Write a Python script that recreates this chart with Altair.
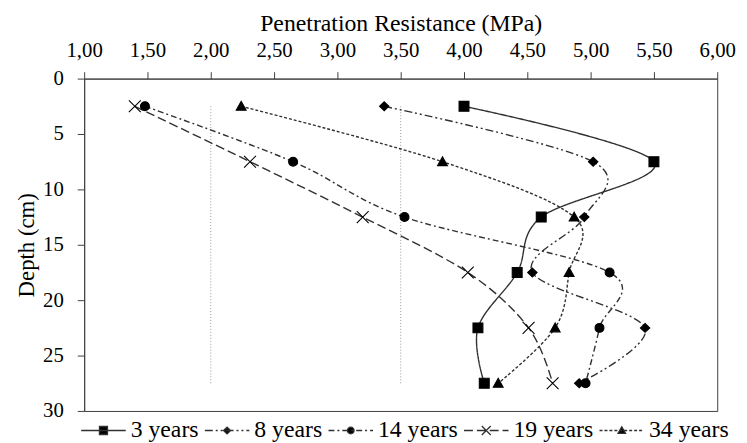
import altair as alt
import pandas as pd

# ---- data ----
depths = [2.5, 7.5, 12.5, 17.5, 22.5, 27.5]
series_names = ["3 years", "8 years", "14 years", "19 years", "34 years"]
pr_3 = [4.00, 5.50, 4.61, 4.42, 4.11, 4.16]
pr_8 = [3.37, 5.02, 4.95, 4.54, 5.43, 4.91]
pr_14 = [1.48, 2.65, 3.53, 5.15, 5.07, 4.96]
pr_19 = [1.40, 2.31, 3.20, 4.03, 4.51, 4.70]
pr_34 = [2.24, 3.83, 4.87, 4.83, 4.72, 4.27]

x_ticks = [1.0, 1.5, 2.0, 2.5, 3.0, 3.5, 4.0, 4.5, 5.0, 5.5, 6.0]
y_ticks = [0, 5, 10, 15, 20, 25, 30]

ref_x = [2.0, 3.5]
ref_top = [2.5, 2.5]
ref_bottom = [27.5, 27.5]

# ---- styles ----
dashes = [[1, 0], [8, 3, 2, 3, 2, 3], [6, 3, 2, 3], [9, 4], [3, 2]]
marker_paths = [
    "M-1,-1H1V1H-1Z",
    "M0,-0.9L0.95,0L0,0.9L-0.95,0Z",
    "M0.9,0A0.9,0.9 0 1,1 -0.9,0A0.9,0.9 0 1,1 0.9,0Z",
    "M-1.2,-1.2L1.2,1.2M-1.2,1.2L1.2,-1.2",
    "M0,-1L1,0.8L-1,0.8Z",
]
legend_markers = [
    "M-0.18,-0.18H0.18V0.18H-0.18Z",
    "M0,-0.15L0.16,0L0,0.15L-0.16,0Z",
    "M0.15,0A0.15,0.15 0 1,1 -0.15,0A0.15,0.15 0 1,1 0.15,0Z",
    "M-0.2,-0.2L0.2,0.2M-0.2,0.2L0.2,-0.2",
    "M0,-0.17L0.17,0.13L-0.17,0.13Z",
]
LEG_SIZE = 2025
LEG_SCALE = (LEG_SIZE ** 0.5) / 2  # px per path unit


def dashed_segment_path(pattern):
    """Legend line from -1 to 1 drawn as separate segments following the dash pattern."""
    if pattern[1] == 0:
        return "M-1,0H1"
    total = 2 * LEG_SCALE
    pos, i, parts = 0.0, 0, []
    while pos < total:
        seg = pattern[i % len(pattern)]
        end = min(pos + seg, total)
        if i % 2 == 0:
            parts.append(f"M{-1 + pos / LEG_SCALE:.3f},0H{-1 + end / LEG_SCALE:.3f}")
        pos += seg
        i += 1
    return "".join(parts)


legend_paths = [dashed_segment_path(d) + m for d, m in zip(dashes, legend_markers)]

rows = []
for name, vals in zip(series_names, [pr_3, pr_8, pr_14, pr_19, pr_34]):
    for d, v in zip(depths, vals):
        rows.append({"series": name, "depth": d, "pr": v})
df = pd.DataFrame(rows)
ref_df = pd.DataFrame({"pr": ref_x, "depth": ref_top, "depth2": ref_bottom})

FONT = "Liberation Serif"
axis_style = dict(
    labelFont=FONT,
    titleFont=FONT,
    labelFontSize=21,
    titleFontWeight="normal",
    labelColor="black",
    titleColor="black",
    grid=False,
    domainColor="#404040",
    tickColor="#404040",
    tickSize=7,
    labelFlush=False,
)

x_axis = alt.Axis(
    orient="top",
    values=x_ticks,
    labelExpr="replace(format(datum.value, '.2f'), '.', ',')",
    title="Penetration Resistance (MPa)",
    titleFontSize=24,
    labelPadding=11,
    titlePadding=5,
    labelOverlap=False,
    **axis_style,
)
y_axis = alt.Axis(
    values=y_ticks,
    title="Depth (cm)",
    titleFontSize=23,
    labelPadding=14,
    titlePadding=4,
    **axis_style,
)
x_scale = alt.Scale(domain=[1, 6], nice=False, zero=False)
y_scale = alt.Scale(domain=[0, 30], reverse=True, nice=False)


def xe():
    return alt.X("pr:Q", scale=x_scale, axis=x_axis)


def ye():
    return alt.Y("depth:Q", scale=y_scale, axis=y_axis)


base = alt.Chart(df)

refs = alt.Chart(ref_df).mark_rule(
    color="#9a9a9a", strokeDash=[1, 2], strokeWidth=1
).encode(x=xe(), y=ye(), y2="depth2:Q")

lines = base.mark_line(
    interpolate="cardinal", color="#303030", strokeWidth=1.4
).encode(
    x=xe(),
    y=ye(),
    order=alt.Order("depth:Q"),
    detail="series:N",
    strokeDash=alt.StrokeDash(
        "series:N",
        scale=alt.Scale(domain=series_names, range=dashes),
        legend=None,
    ),
)

points = base.mark_point(
    filled=True, fill="black", stroke="black", strokeWidth=1.1, opacity=1, size=100
).encode(
    x=xe(),
    y=ye(),
    shape=alt.Shape(
        "series:N",
        scale=alt.Scale(domain=series_names, range=marker_paths),
        legend=None,
    ),
)

legend_layer = base.transform_filter("false").mark_point(
    filled=False, fill="black", stroke="#303030", strokeWidth=1.3, opacity=1, size=LEG_SIZE
).encode(
    x=xe(),
    y=ye(),
    shape=alt.Shape(
        "series:N",
        scale=alt.Scale(domain=series_names, range=legend_paths),
        legend=alt.Legend(
            title=None,
            orient="none",
            direction="horizontal",
            legendX=-4,
            legendY=332,
            labelFont=FONT,
            labelFontSize=24,
            labelColor="black",
            labelOffset=4,
            columnPadding=3,
            padding=0,
            symbolOpacity=1,
            symbolSize=LEG_SIZE,
            symbolStrokeWidth=1.3,
        ),
    ),
)

chart = (
    alt.layer(refs, lines, points, legend_layer)
    .resolve_scale(shape="independent")
    .properties(
        width=640,
        height=336,
        autosize=alt.AutoSizeParams(type="none"),
        padding={"left": 77, "top": 69, "right": 22, "bottom": 30},
        background="white",
    )
    .configure(font=FONT)
    .configure_view(stroke="#404040", strokeWidth=1)
    .configure_axis(**axis_style)
)

chart.save("out.html", embed_options={"renderer": "svg", "actions": False})
